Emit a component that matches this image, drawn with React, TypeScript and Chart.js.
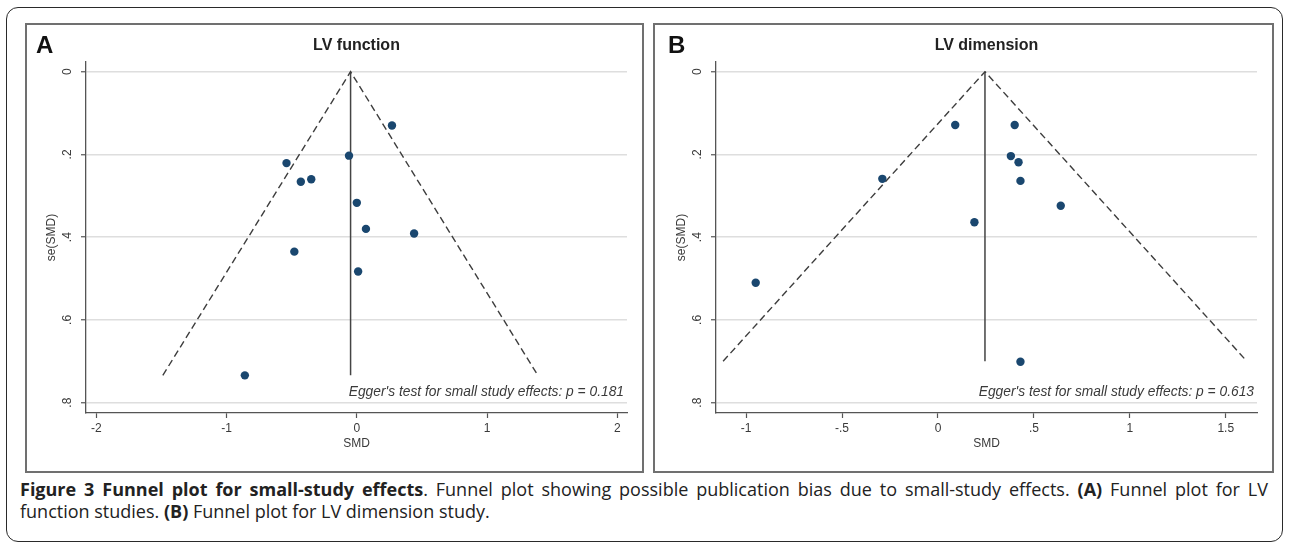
import React, { useEffect, useRef } from "react";
import { Chart, registerables } from "chart.js";

Chart.register(...registerables);

// ---------- data ----------
// Panel A: LV function
const aSMD = [0.27, -0.06, -0.54, -0.43, -0.35, 0.0, 0.07, 0.44, -0.48, 0.01, -0.86];
const aSE = [0.13, 0.203, 0.221, 0.266, 0.26, 0.317, 0.38, 0.391, 0.435, 0.483, 0.734];
const funnelAX = [-1.49, -0.048, 1.39];
const funnelAY = [0.734, 0, 0.734];
const pooledAX = [-0.048, -0.048];
const pooledAY = [0, 0.734];

// Panel B: LV dimension
const bSMD = [0.09, 0.4, 0.38, 0.42, 0.43, -0.29, 0.64, 0.19, -0.95, 0.43];
const bSE = [0.129, 0.129, 0.204, 0.219, 0.264, 0.259, 0.324, 0.364, 0.51, 0.701];
const funnelBX = [-1.12, 0.245, 1.61];
const funnelBY = [0.7, 0, 0.7];
const pooledBX = [0.245, 0.245];
const pooledBY = [0, 0.7];

// ticks
const yTicks = [0, 0.2, 0.4, 0.6, 0.8];
const yTickLabels = ["0", ".2", ".4", ".6", ".8"];
const xTicksA = [-2, -1, 0, 1, 2];
const xTickLabelsA = ["-2", "-1", "0", "1", "2"];
const xTicksB = [-1, -0.5, 0, 0.5, 1, 1.5];
const xTickLabelsB = ["-1", "-.5", "0", ".5", "1", "1.5"];

const titleA = "LV function";
const titleB = "LV dimension";
const eggerA = "Egger's test for small study effects: p = 0.181";
const eggerB = "Egger's test for small study effects: p = 0.613";

const FONT = "'Liberation Sans', Arial, Helvetica, sans-serif";
const DOT = "#1a476f";
const AXIS = "#555555";
const GRID = "#dedede";
const TXT = "#3a3a3a";

type PanelProps = {
  letter: string;
  title: string;
  egger: string;
  xs: number[];
  ys: number[];
  fx: number[];
  fy: number[];
  px: number[];
  py: number[];
  xTicks: number[];
  xLabels: string[];
  xMin: number;
  xMax: number;
  left: number;
  top: number;
  width: number;
  height: number;
  padLeft: number;
  padRight: number;
  letterX: number;
};

const toPts = (xs: number[], ys: number[]) => xs.map((x, i) => ({ x, y: ys[i] }));

function FunnelPanel(p: PanelProps) {
  const ref = useRef<HTMLCanvasElement | null>(null);
  useEffect(() => {
    if (!ref.current) return;
    const annot = {
      id: "annot" + p.letter,
      afterDraw(chart: any) {
        const ctx = chart.ctx as CanvasRenderingContext2D;
        const ca = chart.chartArea;
        const yS = chart.scales.y;
        const cx = (ca.left + ca.right) / 2;
        ctx.save();
        // panel letter
        ctx.fillStyle = "#111";
        ctx.font = `bold 24px ${FONT}`;
        ctx.textAlign = "left";
        ctx.textBaseline = "alphabetic";
        ctx.fillText(p.letter, p.letterX, 28);
        // title
        ctx.font = `bold 16px ${FONT}`;
        ctx.fillStyle = "#222";
        ctx.textAlign = "center";
        ctx.fillText(p.title, cx, 25);
        // y tick labels rotated
        ctx.font = `12px ${FONT}`;
        ctx.fillStyle = TXT;
        yTicks.forEach((v, i) => {
          const y = yS.getPixelForValue(v);
          ctx.save();
          ctx.translate(ca.left - 15, y);
          ctx.rotate(-Math.PI / 2);
          ctx.textAlign = "center";
          ctx.textBaseline = "alphabetic";
          ctx.fillText(yTickLabels[i], 0, 0);
          ctx.restore();
        });
        // y title
        ctx.save();
        ctx.translate(ca.left - 31, (ca.top + ca.bottom) / 2);
        ctx.rotate(-Math.PI / 2);
        ctx.textAlign = "center";
        ctx.textBaseline = "alphabetic";
        ctx.fillText("se(SMD)", 0, 0);
        ctx.restore();
        // x title
        ctx.textAlign = "center";
        ctx.textBaseline = "middle";
        ctx.fillText("SMD", cx, ca.bottom + 31);
        // Egger
        ctx.font = `italic 13.8px ${FONT}`;
        ctx.textAlign = "right";
        ctx.textBaseline = "alphabetic";
        ctx.fillText(p.egger, ca.right - 3, ca.bottom - 17);
        ctx.restore();
      },
    };
    const chart = new Chart(ref.current, {
      type: "scatter",
      data: {
        datasets: [
          {
            data: toPts(p.xs, p.ys),
            backgroundColor: DOT,
            borderColor: DOT,
            borderWidth: 0,
            pointRadius: 4.2,
            showLine: false,
          },
          {
            data: toPts(p.fx, p.fy),
            showLine: true,
            borderColor: "#3d3d3d",
            borderWidth: 1.4,
            borderDash: [7, 4],
            pointRadius: 0,
            fill: false,
          },
          {
            data: toPts(p.px, p.py),
            showLine: true,
            borderColor: "#444",
            borderWidth: 1.5,
            pointRadius: 0,
            fill: false,
          },
        ],
      },
      options: {
        animation: false,
        responsive: false,
        maintainAspectRatio: false,
        events: [],
        layout: { padding: { left: p.padLeft, right: p.padRight, top: 37, bottom: 8 } },
        plugins: { legend: { display: false }, tooltip: { enabled: false }, title: { display: false } },
        scales: {
          x: {
            type: "linear",
            min: p.xMin,
            max: p.xMax,
            afterFit: (s: any) => {
              s.height = 50;
            },
            afterBuildTicks: (s: any) => {
              s.ticks = p.xTicks.map((v) => ({ value: v }));
            },
            ticks: {
              autoSkip: false,
              maxRotation: 0,
              minRotation: 0,
              padding: 3,
              color: TXT,
              font: { family: FONT, size: 12 },
              callback: (_v: any, i: number) => p.xLabels[i],
            },
            grid: { drawOnChartArea: false, drawTicks: true, tickLength: 5, tickColor: AXIS, tickWidth: 1.2 },
            border: { display: true, color: AXIS, width: 1.3 },
          },
          y: {
            type: "linear",
            reverse: true,
            min: -0.0234,
            max: 0.825,
            afterFit: (s: any) => {
              s.width = 30;
            },
            afterBuildTicks: (s: any) => {
              s.ticks = yTicks.map((v) => ({ value: v }));
            },
            ticks: { display: false },
            grid: {
              drawOnChartArea: true,
              drawTicks: true,
              tickLength: 5,
              color: GRID,
              lineWidth: 1.5,
              tickColor: AXIS,
              tickWidth: 1.2,
            },
            border: { display: true, color: AXIS, width: 1.3 },
          },
        },
      },
      plugins: [annot],
    } as any);
    return () => chart.destroy();
  }, []);
  return (
    <canvas
      ref={ref}
      width={p.width}
      height={p.height}
      style={{ position: "absolute", left: p.left, top: p.top, width: p.width, height: p.height }}
    />
  );
}

export default function App() {
  const captionFont = "'Open Sans', 'Noto Sans', sans-serif";
  return (
    <div style={{ position: "absolute", left: 0, top: 0, width: 1289, height: 547, background: "#fff" }}>
      <div
        style={{
          position: "absolute",
          left: 6,
          top: 7,
          width: 1277,
          height: 535,
          border: "1.5px solid #2a2a2a",
          borderRadius: 12,
          boxSizing: "border-box",
        }}
      />
      <div
        style={{
          position: "absolute",
          left: 25,
          top: 23,
          width: 619,
          height: 450,
          border: "2px solid #707070",
          boxSizing: "border-box",
        }}
      />
      <div
        style={{
          position: "absolute",
          left: 653,
          top: 23,
          width: 621,
          height: 450,
          border: "2px solid #707070",
          boxSizing: "border-box",
        }}
      />
      <FunnelPanel
        letter="A"
        title={titleA}
        egger={eggerA}
        xs={aSMD}
        ys={aSE}
        fx={funnelAX}
        fy={funnelAY}
        px={pooledAX}
        py={pooledAY}
        xTicks={xTicksA}
        xLabels={xTickLabelsA}
        xMin={-2.08}
        xMax={2.075}
        left={27}
        top={25}
        width={615}
        height={446}
        padLeft={29}
        padRight={15}
        letterX={9}
      />
      <FunnelPanel
        letter="B"
        title={titleB}
        egger={eggerB}
        xs={bSMD}
        ys={bSE}
        fx={funnelBX}
        fy={funnelBY}
        px={pooledBX}
        py={pooledBY}
        xTicks={xTicksB}
        xLabels={xTickLabelsB}
        xMin={-1.157}
        xMax={1.663}
        left={655}
        top={25}
        width={617}
        height={446}
        padLeft={31}
        padRight={15}
        letterX={13}
      />
      <div
        style={{
          position: "absolute",
          left: 20,
          top: 478,
          width: 1248,
          fontFamily: captionFont,
          fontSize: 18,
          lineHeight: "22px",
          color: "#222",
        }}
      >
        <div style={{ textAlign: "justify", textAlignLast: "justify" } as any}>
          <b>Figure 3 Funnel plot for small-study effects</b>. Funnel plot showing possible publication bias due to
          small-study effects. <b>(A)</b> Funnel plot for LV
        </div>
        <div>
          function studies. <b>(B)</b> Funnel plot for LV dimension study.
        </div>
      </div>
    </div>
  );
}
